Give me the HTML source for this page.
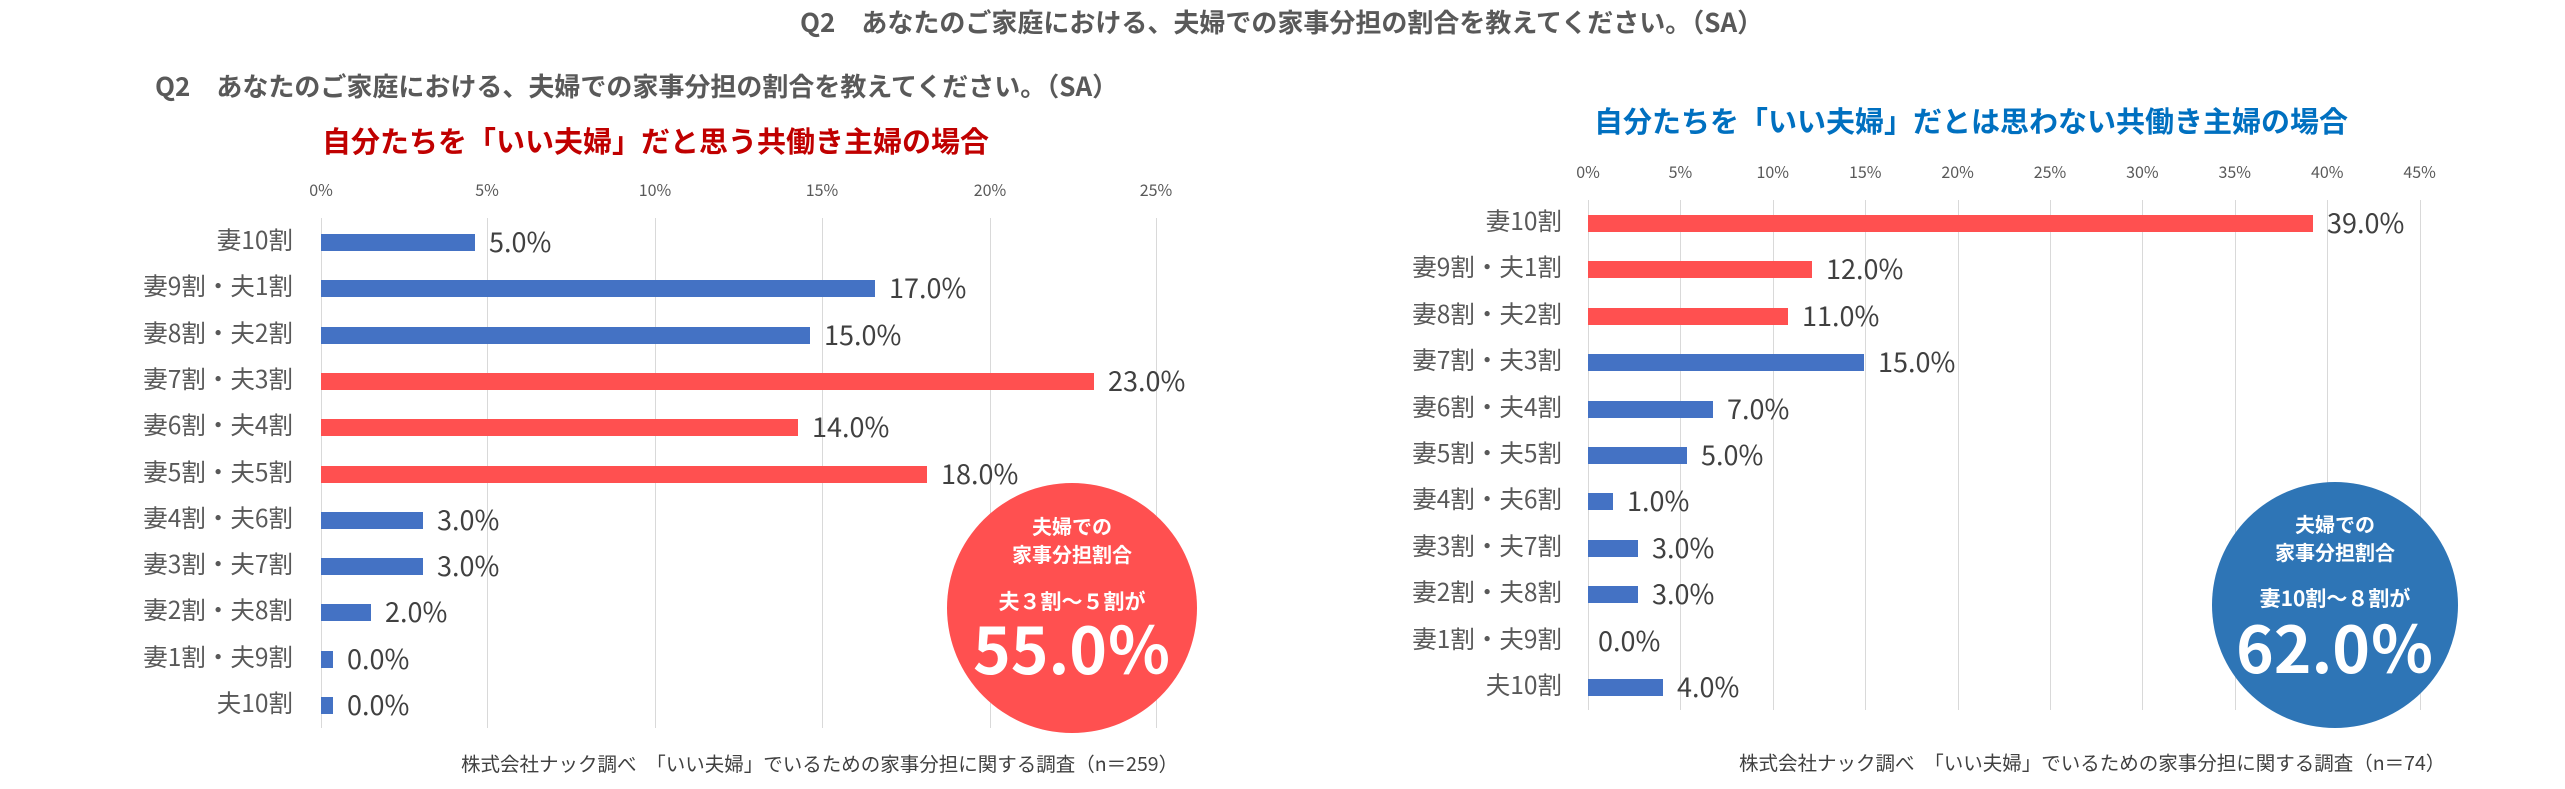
<!DOCTYPE html>
<html><head><meta charset="utf-8"><style>
body{margin:0;width:2565px;height:789px;background:#fff;position:relative;overflow:hidden;font-family:"Noto Sans CJK JP","Liberation Sans",sans-serif;}
.a{position:absolute;white-space:nowrap;line-height:1;}
.t{font-weight:bold;color:#595959;font-size:26px;}
.tick{font-size:16px;color:#595959;transform:translateX(-50%);}
.cat{font-size:24.5px;color:#595959;text-align:right;}
.val{font-size:27px;color:#404040;}
.g{position:absolute;width:1px;background:#d9d9d9;}
.b{position:absolute;height:17px;}
.bl{background:#4472c4;}.rd{background:#ff5050;}
.circ{position:absolute;border-radius:50%;color:#fff;text-align:center;font-weight:bold;}
.circ div{position:absolute;left:0;right:0;line-height:1;}
.src{font-size:19.5px;color:#404040;}
</style></head><body>
<div class="a t" style="left:800px;top:9px;">Q2　あなたのご家庭における、夫婦での家事分担の割合を教えてください。（SA）</div>
<div class="a t" style="left:155px;top:73px;">Q2　あなたのご家庭における、夫婦での家事分担の割合を教えてください。（SA）</div>
<div class="a" style="left:322px;top:126px;font-size:29px;font-weight:bold;color:#c00000;">自分たちを「いい夫婦」だと思う共働き主婦の場合</div>
<div class="a" style="left:1594px;top:106px;font-size:29px;font-weight:bold;color:#0070c0;">自分たちを「いい夫婦」だとは思わない共働き主婦の場合</div>

<div class="g" style="left:321px;top:218px;height:510px"></div>
<div class="g" style="left:487px;top:218px;height:510px"></div>
<div class="g" style="left:655px;top:218px;height:510px"></div>
<div class="g" style="left:822px;top:218px;height:510px"></div>
<div class="g" style="left:990px;top:218px;height:510px"></div>
<div class="g" style="left:1156px;top:218px;height:510px"></div>
<div class="a tick" style="left:321px;top:181px">0%</div>
<div class="a tick" style="left:487px;top:181px">5%</div>
<div class="a tick" style="left:655px;top:181px">10%</div>
<div class="a tick" style="left:822px;top:181px">15%</div>
<div class="a tick" style="left:990px;top:181px">20%</div>
<div class="a tick" style="left:1156px;top:181px">25%</div>

<div id="L"></div>
<div id="R"></div>

<div class="circ" style="left:947px;top:483px;width:250px;height:250px;background:#ff5050;">
<div style="top:33px;font-size:20px;">夫婦での</div>
<div style="top:61px;font-size:20px;">家事分担割合</div>
<div style="top:108px;font-size:21px;">夫３割～５割が</div>
<div style="top:132px;font-size:64px;">55.0％</div>
</div>

<div class="circ" style="left:2212px;top:482px;width:246px;height:246px;background:#2e75b6;">
<div style="top:32px;font-size:20px;">夫婦での</div>
<div style="top:60px;font-size:20px;">家事分担割合</div>
<div style="top:106px;font-size:21px;">妻10割～８割が</div>
<div style="top:132px;font-size:64px;">62.0％</div>
</div>

<div class="a src" style="left:461px;top:753px;">株式会社ナック調べ　「いい夫婦」でいるための家事分担に関する調査（n＝259）</div>
<div class="a src" style="left:1739px;top:752px;">株式会社ナック調べ　「いい夫婦」でいるための家事分担に関する調査（n＝74）</div>

<script>
var cats=["妻10割","妻9割・夫1割","妻8割・夫2割","妻7割・夫3割","妻6割・夫4割","妻5割・夫5割","妻4割・夫6割","妻3割・夫7割","妻2割・夫8割","妻1割・夫9割","夫10割"];
function chart(x0,ends,y0,dy,vals,cols,catR){
 var h="";
 for(var i=0;i<11;i++){
  var y=y0+dy*i, v=vals[i], w=ends[i]-x0;
  h+='<div class="a cat" style="right:'+(2565-catR)+'px;top:'+(y-14)+'px">'+cats[i]+'</div>';
  if(w>0) h+='<div class="b '+(cols[i]?'rd':'bl')+'" style="left:'+x0+'px;top:'+(y-8)+'px;width:'+w+'px"></div>';
  var lx = w>0 ? x0+w+14 : x0+10;
  h+='<div class="a val" style="left:'+lx+'px;top:'+(y-15)+'px">'+v.toFixed(1)+'%</div>';
 }
 return h;
}
document.getElementById("L").outerHTML=chart(321,[475,875,810,1094,798,927,423,423,371,333,333],242,46.3,[5,17,15,23,14,18,3,3,2,0,0],[0,0,0,1,1,1,0,0,0,0,0],293);
var g="";
for(var k=0;k<10;k++){var x=1588+92.4*k;
 g+='<div class="g" style="left:'+x+'px;top:200px;height:510px"></div>';
 g+='<div class="a tick" style="left:'+x+'px;top:163px">'+(5*k)+'%</div>';}
g+=chart(1588,[2313,1812,1788,1864,1713,1687,1613,1638,1638,1588,1663],223,46.4,[39,12,11,15,7,5,1,3,3,0,4],[1,1,1,0,0,0,0,0,0,0,0],1562);
document.getElementById("R").outerHTML=g;
</script>
</body></html>
